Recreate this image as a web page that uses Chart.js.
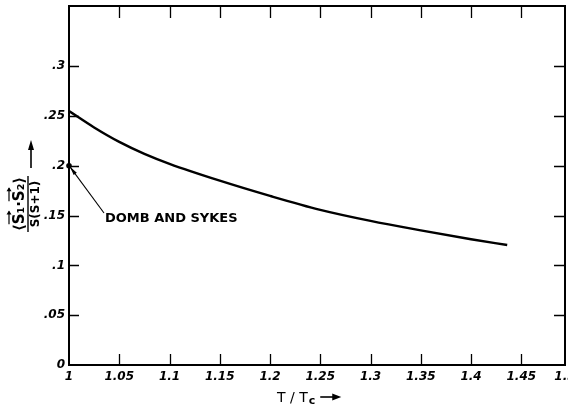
<!DOCTYPE html>
<html>
<head>
<meta charset="utf-8">
<script src="https://cdn.jsdelivr.net/npm/chart.js@4"></script>
<style>
html,body{margin:0;padding:0;background:#fff;overflow:hidden;}
#wrap{width:568px;height:404px;position:relative;}
</style>
</head>
<body>
<div id="wrap"><canvas id="c" width="568" height="404"></canvas></div>
<script>
// ---- data ----
const tValues   = [1.00, 1.025, 1.05, 1.075, 1.10, 1.15, 1.20, 1.25, 1.30, 1.35, 1.40, 1.436];
const corrValues= [0.255, 0.2385, 0.2240, 0.2120, 0.2020, 0.1851, 0.1698, 0.1558, 0.1447, 0.1352, 0.1263, 0.1205];
const dombSykesPoint = {x: 1.0, y: 0.2};
const dombSykesLabel = "DOMB AND SYKES";
const xTickValues = [1, 1.05, 1.1, 1.15, 1.2, 1.25, 1.3, 1.35, 1.4, 1.45, 1.5];
const xTickLabels = ["1", "1.05", "1.1", "1.15", "1.2", "1.25", "1.3", "1.35", "1.4", "1.45", "1.5"];
const yTickValues = [0, 0.05, 0.1, 0.15, 0.2, 0.25, 0.3];
const yTickLabels = ["0", ".05", ".1", ".15", ".2", ".25", ".3"];
const X_MIN = 1, X_MAX = 1.4935, Y_MIN = 0, Y_MAX = 0.3605;

const FONT = "DejaVu Sans";
const tickFont = {family: FONT, size: 12, style: 'italic', weight: 'bold'};

const decor = {
  id: 'decor',
  afterDraw(chart) {
    const ctx = chart.ctx, a = chart.chartArea;
    const xs = chart.scales.x, ys = chart.scales.y;
    ctx.save();
    ctx.strokeStyle = '#000'; ctx.fillStyle = '#000';
    // frame
    ctx.lineCap = 'square';
    ctx.lineWidth = 2;
    ctx.beginPath();
    ctx.moveTo(a.left, a.top); ctx.lineTo(a.right, a.top);
    ctx.moveTo(a.right, a.top); ctx.lineTo(a.right, a.bottom);
    ctx.moveTo(a.left, a.top); ctx.lineTo(a.left, a.bottom);
    ctx.moveTo(a.left, a.bottom); ctx.lineTo(a.right, a.bottom);
    ctx.stroke();
    // inward ticks
    ctx.lineWidth = 1.3; ctx.lineCap = 'butt';
    ctx.beginPath();
    xTickValues.forEach(v => {
      if (v <= X_MIN || v >= X_MAX) return;
      const px = Math.round(xs.getPixelForValue(v)) + 0.5;
      ctx.moveTo(px, a.bottom); ctx.lineTo(px, a.bottom - 11);
      ctx.moveTo(px, a.top); ctx.lineTo(px, a.top + 12);
    });
    yTickValues.forEach(v => {
      if (v <= Y_MIN || v >= Y_MAX) return;
      const py = Math.round(ys.getPixelForValue(v)) + 0.5;
      ctx.moveTo(a.left, py); ctx.lineTo(a.left + 10, py);
      ctx.moveTo(a.right, py); ctx.lineTo(a.right - 11, py);
    });
    ctx.stroke();
    // Domb & Sykes point, arrow, label
    const dx = xs.getPixelForValue(dombSykesPoint.x), dy = ys.getPixelForValue(dombSykesPoint.y);
    ctx.beginPath(); ctx.arc(dx, dy, 2.8, 0, Math.PI * 2); ctx.fill();
    const lx = 104, ly = 213;
    ctx.lineWidth = 1.1;
    ctx.beginPath(); ctx.moveTo(lx, ly); ctx.lineTo(dx + 1, dy + 1); ctx.stroke();
    const ang = Math.atan2(dy - ly, dx - lx);
    ctx.beginPath();
    ctx.moveTo(dx + 1, dy + 1);
    ctx.lineTo(dx + 1 - 9 * Math.cos(ang - 0.22), dy + 1 - 9 * Math.sin(ang - 0.22));
    ctx.lineTo(dx + 1 - 9 * Math.cos(ang + 0.22), dy + 1 - 9 * Math.sin(ang + 0.22));
    ctx.closePath(); ctx.fill();
    ctx.font = "bold 13px " + FONT;
    ctx.textBaseline = 'middle'; ctx.textAlign = 'left';
    ctx.fillText(dombSykesLabel, 105, 219);

    // x-axis title  T/Tc --->
    ctx.font = "14px " + FONT;
    ctx.textBaseline = 'alphabetic';
    let tx = 277; const tyy = 402;
    ctx.fillText("T / T", tx, tyy);
    tx += ctx.measureText("T / T").width;
    ctx.font = "bold 11px " + FONT;
    ctx.fillText("c", tx + 1, tyy + 2);
    tx += ctx.measureText("c").width + 6;
    ctx.lineWidth = 1.6;
    ctx.beginPath(); ctx.moveTo(tx, tyy - 5); ctx.lineTo(tx + 17, tyy - 5); ctx.stroke();
    ctx.beginPath(); ctx.moveTo(tx + 21, tyy - 5); ctx.lineTo(tx + 12, tyy - 8.5); ctx.lineTo(tx + 12, tyy - 1.5); ctx.closePath(); ctx.fill();

    // y-axis title: rotated fraction <S1.S2>/S(S+1) with arrow
    ctx.save();
    ctx.translate(28, 204);
    ctx.rotate(-Math.PI / 2);
    ctx.textBaseline = 'alphabetic';
    ctx.font = "bold 15px " + FONT;
    const num = "\u27E8S\u2081\u00B7S\u2082\u27E9";
    const den = "S(S+1)";
    const nw = ctx.measureText(num).width;
    ctx.textAlign = 'center';
    ctx.fillText(num, 0, -4);
    const left = -nw / 2;
    const w1 = ctx.measureText("\u27E8").width;
    const wS = ctx.measureText("S").width;
    const w2 = ctx.measureText("S\u2081\u00B7").width;
    ctx.lineWidth = 1.2;
    [left + w1, left + w1 + w2].forEach(sx => {
      ctx.beginPath(); ctx.moveTo(sx, -19); ctx.lineTo(sx + wS + 2, -19); ctx.stroke();
      ctx.beginPath(); ctx.moveTo(sx + wS + 3, -19); ctx.lineTo(sx + wS - 1, -21.5); ctx.lineTo(sx + wS - 1, -16.5); ctx.closePath(); ctx.fill();
    });
    ctx.lineWidth = 1.4;
    ctx.beginPath(); ctx.moveTo(-nw / 2 - 1, 0); ctx.lineTo(nw / 2 + 1, 0); ctx.stroke();
    ctx.font = "bold 12px " + FONT;
    ctx.fillText(den, 0, 11);
    ctx.lineWidth = 1.6;
    ctx.beginPath(); ctx.moveTo(36, 3); ctx.lineTo(58, 3); ctx.stroke();
    ctx.beginPath(); ctx.moveTo(64, 3); ctx.lineTo(54, 0); ctx.lineTo(54, 6); ctx.closePath(); ctx.fill();
    ctx.restore();

    ctx.restore();
  }
};

new Chart(document.getElementById('c'), {
  type: 'line',
  data: {
    datasets: [{
      data: tValues.map((t, i) => ({x: t, y: corrValues[i]})),
      borderColor: '#000',
      borderWidth: 2.4,
      pointRadius: 0,
      fill: false,
      cubicInterpolationMode: 'monotone'
    }]
  },
  options: {
    responsive: false,
    animation: false,
    events: [],
    layout: {padding: {left: 0, right: 3, top: 6, bottom: 0}, autoPadding: false},
    plugins: {legend: {display: false}, tooltip: {enabled: false}},
    scales: {
      x: {
        type: 'linear', min: X_MIN, max: X_MAX,
        grid: {display: false, drawTicks: false},
        border: {display: false},
        afterBuildTicks: s => { s.ticks = xTickValues.map(v => ({value: Math.min(v, X_MAX)})); },
        afterFit: s => { s.height = 39; s.paddingLeft = 0; s.paddingRight = 0; },
        ticks: {
          autoSkip: false, maxRotation: 0, padding: 5, color: '#000', font: tickFont,
          callback: (v, i) => xTickLabels[i]
        }
      },
      y: {
        type: 'linear', min: Y_MIN, max: Y_MAX,
        grid: {display: false, drawTicks: false},
        border: {display: false},
        afterBuildTicks: s => { s.ticks = yTickValues.map(v => ({value: v})); },
        afterFit: s => { s.width = 69; s.paddingTop = 0; s.paddingBottom = 0; },
        ticks: {
          autoSkip: false, padding: 4, color: '#000', font: tickFont,
          callback: (v, i) => yTickLabels[i]
        }
      }
    }
  },
  plugins: [decor]
});
</script>
</body>
</html>
